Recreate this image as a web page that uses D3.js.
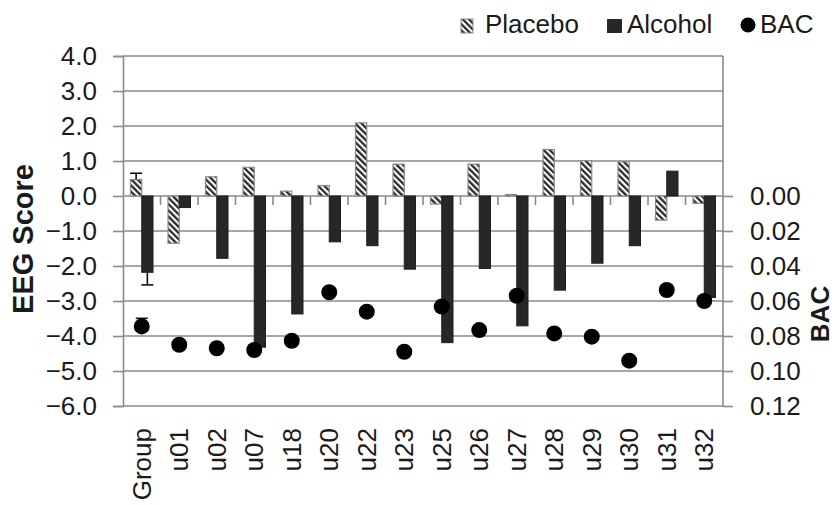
<!DOCTYPE html>
<html>
<head>
<meta charset="utf-8">
<script src="https://cdn.jsdelivr.net/npm/d3@7"></script>
<style>
  html, body { margin: 0; padding: 0; background: #fff; }
  svg { display: block; }
  text { font-family: "Liberation Sans", Arial, sans-serif; fill: #1a1a1a; }
</style>
</head>
<body>
<svg id="chart" width="836" height="505"></svg>
<script>
const categories = ["Group","u01","u02","u07","u18","u20","u22","u23","u25","u26","u27","u28","u29","u30","u31","u32"];
const placebo = [0.47, -1.35, 0.55, 0.82, 0.14, 0.30, 2.09, 0.91, -0.23, 0.91, 0.04, 1.33, 1.01, 0.98, -0.69, -0.21];
const alcohol = [-2.18, -0.33, -1.78, -4.32, -3.37, -1.31, -1.42, -2.09, -4.19, -2.07, -3.71, -2.69, -1.92, -1.42, 0.71, -2.90];
const bac = [0.0745, 0.0850, 0.0870, 0.0880, 0.0827, 0.0550, 0.0661, 0.0890, 0.0632, 0.0766, 0.0570, 0.0785, 0.0804, 0.0941, 0.0537, 0.0600];
// error bars (Group only)
const groupPlaceboErr = 0.18;
const groupAlcoholErr = 0.36;
const groupBacErr = 0.0046;
const leftTicks = [4, 3, 2, 1, 0, -1, -2, -3, -4, -5, -6];
const rightTicks = [0.00, 0.02, 0.04, 0.06, 0.08, 0.10, 0.12];
const legendItems = ["Placebo", "Alcohol", "BAC"];

const svg = d3.select("#chart");
const mLeft = 123, mRight = 723, mTop = 56, mBottom = 406;

const x = d3.scaleBand().domain(categories).range([mLeft, mRight]).paddingInner(0).paddingOuter(0);
const y = d3.scaleLinear().domain([-6, 4]).range([mBottom, mTop]);
const yB = d3.scaleLinear().domain([0, 0.12]).range([y(0), mBottom]);

const defs = svg.append("defs");
const pat = defs.append("pattern").attr("id", "hatch")
  .attr("patternUnits", "userSpaceOnUse").attr("width", 4.4).attr("height", 4.4)
  .attr("patternTransform", "rotate(-45)");
pat.append("rect").attr("width", 4.4).attr("height", 4.4).attr("fill", "#fff");
pat.append("rect").attr("width", 2.3).attr("height", 4.4).attr("fill", "#2a2a2a");

const gridColor = "#8a8a8a";

// gridlines
svg.append("g").selectAll("line").data(leftTicks).join("line")
  .attr("x1", mLeft).attr("x2", mRight)
  .attr("y1", d => y(d)).attr("y2", d => y(d))
  .attr("stroke", gridColor).attr("stroke-width", 1.6);

// left axis
const yAxis = d3.axisLeft(y).tickValues(leftTicks).tickSize(10).tickPadding(16).tickFormat(d3.format(".1f"));
const gy = svg.append("g").attr("transform", `translate(${mLeft},0)`).call(yAxis);
gy.select(".domain").attr("stroke", gridColor).attr("stroke-width", 1.6);
gy.selectAll(".tick line").attr("stroke", gridColor).attr("stroke-width", 1.6);
gy.selectAll(".tick text").attr("font-size", 26).attr("font-family", "Liberation Sans, Arial, sans-serif").attr("fill", "#1a1a1a");

// right axis
const yAxisR = d3.axisRight(yB).tickValues(rightTicks).tickSize(10).tickPadding(17).tickFormat(d3.format(".2f"));
const gr = svg.append("g").attr("transform", `translate(${mRight},0)`).call(yAxisR);
gr.select(".domain").remove();
gr.append("line").attr("x1", 0).attr("x2", 0).attr("y1", mTop).attr("y2", mBottom)
  .attr("stroke", gridColor).attr("stroke-width", 1.6);
gr.selectAll(".tick line").attr("stroke", gridColor).attr("stroke-width", 1.6);
gr.selectAll(".tick text").attr("font-size", 26).attr("font-family", "Liberation Sans, Arial, sans-serif").attr("fill", "#1a1a1a");

// category ticks on the zero line
svg.append("g").selectAll("line").data(categories.slice(1)).join("line")
  .attr("x1", d => x(d)).attr("x2", d => x(d))
  .attr("y1", y(0)).attr("y2", y(0) + 9)
  .attr("stroke", gridColor).attr("stroke-width", 1.6);

// x labels
svg.append("g").selectAll("text").data(categories).join("text")
  .attr("transform", d => `translate(${x(d) + x.bandwidth() / 2},428) rotate(-90)`)
  .attr("text-anchor", "end").attr("dy", "0.35em")
  .attr("font-size", 26).text(d => d);

const bw = x.bandwidth() * 0.3;

// placebo bars
svg.append("g").selectAll("rect").data(categories).join("rect")
  .attr("x", (d) => x(d) + x.bandwidth() / 2 - bw)
  .attr("width", bw)
  .attr("y", (d, i) => y(Math.max(0, placebo[i])))
  .attr("height", (d, i) => Math.abs(y(placebo[i]) - y(0)))
  .attr("fill", "url(#hatch)").attr("stroke", "#8a8a8a").attr("stroke-width", 1.2);

// alcohol bars
svg.append("g").selectAll("rect").data(categories).join("rect")
  .attr("x", (d) => x(d) + x.bandwidth() / 2)
  .attr("width", bw)
  .attr("y", (d, i) => y(Math.max(0, alcohol[i])))
  .attr("height", (d, i) => Math.abs(y(alcohol[i]) - y(0)))
  .attr("fill", "#272727").attr("stroke", "#1e1e1e").attr("stroke-width", 1);

// error bars for Group
const g0 = categories[0];
const pcx = x(g0) + x.bandwidth() / 2 - bw / 2;
const acx = x(g0) + x.bandwidth() / 2 + bw / 2;
const eb = svg.append("g").attr("stroke", "#111").attr("stroke-width", 1.6);
eb.append("line").attr("x1", pcx).attr("x2", pcx).attr("y1", y(placebo[0])).attr("y2", y(placebo[0] + groupPlaceboErr));
eb.append("line").attr("x1", pcx - 6).attr("x2", pcx + 6).attr("y1", y(placebo[0] + groupPlaceboErr)).attr("y2", y(placebo[0] + groupPlaceboErr));
eb.append("line").attr("x1", acx).attr("x2", acx).attr("y1", y(alcohol[0])).attr("y2", y(alcohol[0] - groupAlcoholErr));
eb.append("line").attr("x1", acx - 6).attr("x2", acx + 6).attr("y1", y(alcohol[0] - groupAlcoholErr)).attr("y2", y(alcohol[0] - groupAlcoholErr));

// BAC dots
const gcx = x(g0) + x.bandwidth() / 2;
eb.append("line").attr("x1", gcx).attr("x2", gcx).attr("y1", yB(bac[0])).attr("y2", yB(bac[0] - groupBacErr));
eb.append("line").attr("x1", gcx - 6).attr("x2", gcx + 6).attr("y1", yB(bac[0] - groupBacErr)).attr("y2", yB(bac[0] - groupBacErr));
svg.append("g").selectAll("circle").data(categories).join("circle")
  .attr("cx", d => x(d) + x.bandwidth() / 2)
  .attr("cy", (d, i) => yB(bac[i]))
  .attr("r", 8).attr("fill", "#000");

// axis titles
svg.append("text").attr("transform", `translate(33,239) rotate(-90)`)
  .attr("text-anchor", "middle").attr("font-size", 29).attr("font-weight", "bold").text("EEG Score");
svg.append("text").attr("transform", `translate(829,314) rotate(-90)`)
  .attr("text-anchor", "middle").attr("font-size", 26).attr("font-weight", "bold").text("BAC");

// legend
const lg = svg.append("g");
lg.append("rect").attr("x", 461).attr("y", 19).attr("width", 12).attr("height", 14)
  .attr("fill", "url(#hatch)").attr("stroke", "#8a8a8a").attr("stroke-width", 1);
lg.append("text").attr("x", 485).attr("y", 33).attr("font-size", 26).text(legendItems[0]);
lg.append("rect").attr("x", 607).attr("y", 19).attr("width", 15).attr("height", 14).attr("fill", "#272727");
lg.append("text").attr("x", 627).attr("y", 33).attr("font-size", 26).text(legendItems[1]);
lg.append("circle").attr("cx", 748).attr("cy", 25).attr("r", 7.5).attr("fill", "#000");
lg.append("text").attr("x", 760).attr("y", 33).attr("font-size", 26).text(legendItems[2]);
</script>
</body>
</html>
